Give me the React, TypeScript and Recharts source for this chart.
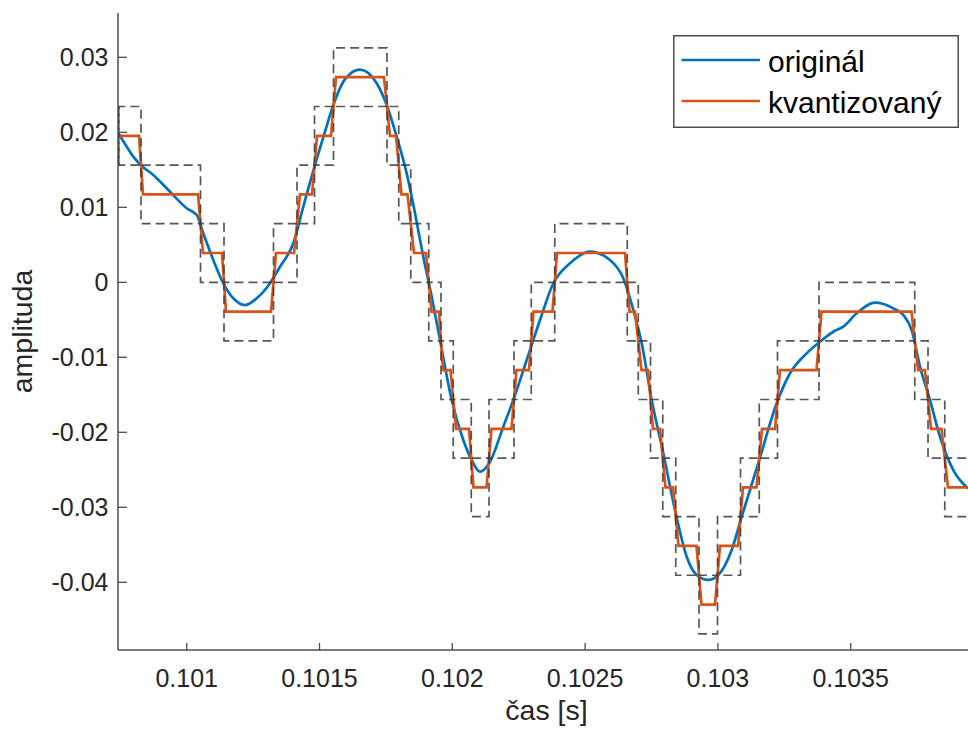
import React from "react";
import { LineChart, Line, XAxis, YAxis, Legend } from "recharts";

// quantisation step (8 bit, range -1..1)
const DELTA = 1 / 128;

// original signal
const origT = [
  0.1007425, 0.1007741, 0.1007989, 0.1008268, 0.1008742, 0.1009371, 0.101, 0.1010377,
  0.1010625, 0.1011001, 0.1011378, 0.1011754, 0.1012195, 0.1012636, 0.1013136, 0.1013513,
  0.1014013, 0.101439, 0.101483, 0.1015207, 0.101552, 0.1015896, 0.1016148, 0.1016525,
  0.1017154, 0.1017553, 0.1017907, 0.1018283, 0.1018596, 0.1018908, 0.1019224, 0.1019537,
  0.1019977, 0.1020414, 0.102073, 0.1021043, 0.102142, 0.102192, 0.1022297, 0.1022801,
  0.1023302, 0.1023803, 0.1024431, 0.1025184, 0.1025937, 0.1026438, 0.1026815, 0.1027131,
  0.1027507, 0.1027944, 0.1028385, 0.1028825, 0.1029202, 0.1029639, 0.1030015, 0.1030519,
  0.1030896, 0.1031521, 0.1032214, 0.1032714, 0.1033343, 0.1033844, 0.1034345, 0.1034721,
  0.1035226, 0.1035915, 0.1036604, 0.103698, 0.1037296, 0.1037609, 0.1037985, 0.1038362,
  0.1038863, 0.1039417,
];
const origV = [
  0.01987, 0.01808, 0.01675, 0.01564, 0.01431, 0.01208, 0.00987, 0.00897,
  0.00653, 0.00297, -0.00013, -0.00213, -0.00303, -0.00213, -0.00013, 0.00208,
  0.0052, 0.01008, 0.01564, 0.02008, 0.02364, 0.02675, 0.02778, 0.02835,
  0.02653, 0.02341, 0.01941, 0.01453, 0.0092, 0.00341, -0.00192, -0.00769,
  -0.01569, -0.02103, -0.02369, -0.02525, -0.02392, -0.01925, -0.01569, -0.01036,
  -0.00503, -0.00013, 0.00253, 0.00408, 0.00297, 0.00053, -0.00369, -0.00813,
  -0.01569, -0.0228, -0.03036, -0.03659, -0.03903, -0.03969, -0.03903, -0.03569,
  -0.03125, -0.02413, -0.01613, -0.01213, -0.00947, -0.00792, -0.00659, -0.00592,
  -0.00413, -0.00272, -0.00347, -0.00436, -0.00636, -0.01125, -0.01569, -0.02059,
  -0.02503, -0.0275,
];

// quantised signal: flat runs (start, end, level index k -> (k + 0.5) * DELTA)
const qStart = [
  0.1007444, 0.1008355, 0.1010614, 0.101148, 0.1013362, 0.1014266, 0.1014906, 0.1015621,
  0.1017654, 0.1018087, 0.1018558, 0.1019217, 0.101965, 0.1020139, 0.1020798, 0.1021476,
  0.1022417, 0.1023057, 0.1023942, 0.1026672, 0.1027124, 0.1027557, 0.1028027, 0.1028517,
  0.1029383, 0.1030079, 0.1030945, 0.1031661, 0.1032338, 0.1033901, 0.1037534, 0.1038024,
  0.1038664,
];
const qEnd = [
  0.1008204, 0.1010425, 0.1011329, 0.1013174, 0.101404, 0.1014718, 0.1015433, 0.1017429,
  0.101788, 0.1018313, 0.101901, 0.1019499, 0.1019932, 0.1020629, 0.1021288, 0.1022229,
  0.1022888, 0.1023773, 0.1026502, 0.1026879, 0.1027369, 0.102782, 0.102831, 0.1029194,
  0.1029891, 0.1030757, 0.1031454, 0.103215, 0.1033713, 0.103729, 0.1037798, 0.1038419,
  0.10397,
];
const qLevel = [
  2, 1, 0, -1, 0, 1, 2, 3, 2, 1, 0, -1, -2, -3, -4, -3, -2, -1, 0, -1, -2, -3, -4, -5, -6,
  -5, -4, -3, -2, -1, -2, -3, -4,
];

const xTicks = [0.101, 0.1015, 0.102, 0.1025, 0.103, 0.1035];
const xTickLabels = ["0.101", "0.1015", "0.102", "0.1025", "0.103", "0.1035"];
const yTicks = [-0.04, -0.03, -0.02, -0.01, 0, 0.01, 0.02, 0.03];
const yTickLabels = ["-0.04", "-0.03", "-0.02", "-0.01", "0", "0.01", "0.02", "0.03"];
const legendOrder = ["originál", "kvantizovaný"];

const X_DOMAIN = [0.1007413, 0.103968];
const Y_DOMAIN = [-0.049027, 0.035907];

const BLUE = "#0072BD";
const ORANGE = "#D95319";
const AXIS = "#4d4d4d";
const TEXT = "#262626";
const FONT = "'Liberation Sans', Arial, Helvetica, sans-serif";

const original = origT.map((t, i) => ({ t, v: origV[i] }));
const quantized = qLevel.flatMap((k, i) => [
  { t: qStart[i], v: (k + 0.5) * DELTA },
  { t: qEnd[i], v: (k + 0.5) * DELTA },
]);

// box edges sit halfway through each transition
const edges = qLevel.map((_, i) => (i === 0 ? qStart[0] : (qEnd[i - 1] + qStart[i]) / 2));
const bound = (off: number, other: number) => [
  { t: qStart[0], v: (qLevel[0] + 0.5 + other) * DELTA },
  ...qLevel.map((k, i) => ({ t: edges[i], v: (k + 0.5 + off) * DELTA })),
  { t: qEnd[qEnd.length - 1], v: (qLevel[qLevel.length - 1] + 0.5 + off) * DELTA },
];
const upper = bound(0.5, -0.5);
const lower = bound(-0.5, 0.5);

const BottomTick = ({ x, y, payload }: any) => {
  const i = xTicks.indexOf(payload.value);
  return (
    <g>
      <line x1={x} x2={x} y1={y} y2={y - 7} stroke={AXIS} strokeWidth={1.3} />
      <text x={x} y={y + 37} textAnchor="middle" fontSize={25} fontFamily={FONT} fill={TEXT}>
        {xTickLabels[i]}
      </text>
    </g>
  );
};

const TopTick = ({ x, y }: any) => (
  <line x1={x} x2={x} y1={y} y2={y + 7} stroke={AXIS} strokeWidth={1.3} />
);

const LeftTick = ({ x, y, payload }: any) => {
  const i = yTicks.indexOf(payload.value);
  return (
    <g>
      <line x1={x} x2={x + 9} y1={y} y2={y} stroke={AXIS} strokeWidth={1.3} />
      <text x={x - 9.5} y={y + 9} textAnchor="end" fontSize={25} fontFamily={FONT} fill={TEXT}>
        {yTickLabels[i]}
      </text>
    </g>
  );
};

const XLabel = ({ viewBox }: any) => (
  <text
    x={viewBox.x + viewBox.width / 2}
    y={viewBox.y + 70}
    textAnchor="middle"
    fontSize={28.5}
    fontFamily={FONT}
    fill={TEXT}
  >
    čas [s]
  </text>
);

const YLabel = ({ viewBox }: any) => {
  const cx = 31.7;
  const cy = viewBox.y + viewBox.height / 2;
  return (
    <text
      x={cx}
      y={cy}
      transform={`rotate(-90 ${cx} ${cy})`}
      textAnchor="middle"
      fontSize={28.5}
      fontFamily={FONT}
      fill={TEXT}
    >
      amplituda
    </text>
  );
};

const LegendBox = ({ payload }: any) => {
  const items = legendOrder
    .map((name) => (payload || []).find((p: any) => p.value === name))
    .filter(Boolean);
  return (
    <svg width={286} height={93} style={{ display: "block" }}>
      <rect x={0.75} y={0.75} width={284.5} height={91.5} fill="#fff" stroke={AXIS} strokeWidth={1.5} />
      {items.map((it: any, i: number) => (
        <g key={it.value}>
          <line x1={8.5} x2={87} y1={25 + i * 41} y2={25 + i * 41} stroke={it.color} strokeWidth={2.7} />
          <text x={95} y={36.5 + i * 41} fontSize={30} fontFamily={FONT} fill="#000">
            {it.value}
          </text>
        </g>
      ))}
    </svg>
  );
};

export default function App() {
  return (
    <div
      style={{
        position: "absolute",
        left: 0,
        top: 0,
        width: 968,
        height: 731,
        overflow: "hidden",
        background: "#fff",
      }}
    >
      <LineChart width={976} height={731} margin={{ top: 13, right: 1, left: 0, bottom: 0 }}>
        <XAxis
          dataKey="t"
          type="number"
          domain={X_DOMAIN}
          allowDataOverflow
          ticks={xTicks}
          interval={0}
          height={81}
          tickSize={0}
          tickMargin={0}
          tickLine={false}
          tick={<BottomTick />}
          axisLine={{ stroke: AXIS, strokeWidth: 1.5 }}
          label={{ content: XLabel }}
        />
        <XAxis
          xAxisId="top"
          orientation="top"
          dataKey="t"
          type="number"
          domain={X_DOMAIN}
          allowDataOverflow
          ticks={xTicks}
          interval={0}
          height={0}
          tickSize={0}
          tickMargin={0}
          tickLine={false}
          tick={<TopTick />}
          axisLine={{ stroke: AXIS, strokeWidth: 1.5 }}
        />
        <YAxis
          type="number"
          domain={Y_DOMAIN}
          allowDataOverflow
          ticks={yTicks}
          interval={0}
          width={118}
          tickSize={0}
          tickMargin={0}
          tickLine={false}
          tick={<LeftTick />}
          axisLine={{ stroke: AXIS, strokeWidth: 1.5 }}
          label={{ content: YLabel }}
        />
        <Line
          data={original}
          dataKey="v"
          name="originál"
          type="monotone"
          stroke={BLUE}
          strokeWidth={2.7}
          dot={false}
          activeDot={false}
          isAnimationActive={false}
        />
        <Line
          data={quantized}
          dataKey="v"
          name="kvantizovaný"
          type="linear"
          stroke={ORANGE}
          strokeWidth={2.7}
          dot={false}
          activeDot={false}
          isAnimationActive={false}
        />
        <Line
          data={upper}
          dataKey="v"
          name="upper"
          type="stepAfter"
          stroke="#3a3a3a"
          strokeOpacity={0.85}
          strokeWidth={1.7}
          strokeDasharray="9 5"
          dot={false}
          activeDot={false}
          legendType="none"
          isAnimationActive={false}
        />
        <Line
          data={lower}
          dataKey="v"
          name="lower"
          type="stepAfter"
          stroke="#3a3a3a"
          strokeOpacity={0.85}
          strokeWidth={1.7}
          strokeDasharray="9 5"
          dot={false}
          activeDot={false}
          legendType="none"
          isAnimationActive={false}
        />
        <Legend
          layout="vertical"
          align="center"
          verticalAlign="middle"
          width={286}
          height={93}
          wrapperStyle={{ left: 673, top: 35, width: 286, height: 93 }}
          content={<LegendBox />}
        />
      </LineChart>
    </div>
  );
}
